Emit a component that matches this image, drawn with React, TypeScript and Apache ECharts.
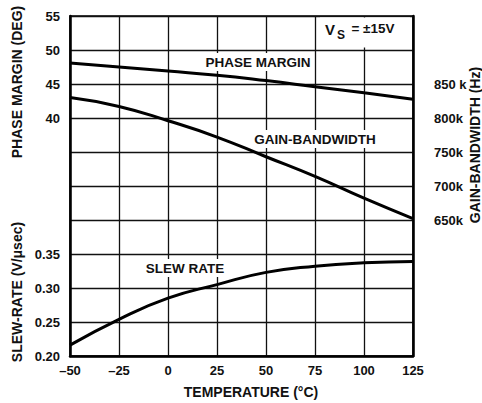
import React, { useEffect, useRef } from "react";
import * as echarts from "echarts";

const temperatures = [-50, -25, 0, 25, 50, 75, 100, 125];
const phaseMargin = [48.1, 47.5, 46.9, 46.3, 45.5, 44.6, 43.7, 42.75];
const gainBandwidth = [830000, 817000, 796000, 772000, 743000, 714000, 682000, 652000];
const slewRate = [0.216, 0.254, 0.285, 0.305, 0.323, 0.332, 0.337, 0.339];

const phaseTicks = [40, 45, 50, 55];
const gbwTicks = [650000, 700000, 750000, 800000, 850000];
const slewTicks = [0.2, 0.25, 0.3, 0.35];

const FONT = "Liberation Sans, Arial, Helvetica, sans-serif";

export default function App() {
  const ref = useRef<HTMLDivElement>(null);
  useEffect(() => {
    document.body.style.margin = "0";
    if (!ref.current) return;
    const chart = echarts.init(ref.current, undefined, { renderer: "svg" });
    const pairs = (ys: number[]) => temperatures.map((t, i) => [t, ys[i]]);
    const lbl = { color: "#111", fontFamily: FONT, fontSize: 13, fontWeight: "bold" as const };
    const lineStyle = { color: "#000", width: 3 };
    const textEl = (text: string, x: number, y: number, extra: any = {}) => ({
      type: "text",
      x,
      y,
      z: 100,
      style: {
        text,
        fill: "#111",
        font: `bold 13.5px ${FONT}`,
        align: "center",
        verticalAlign: "middle",
        ...extra,
      },
    });
    const vText = (text: string, x: number, y: number) => ({
      ...textEl(text, x, y, { font: `bold 14px ${FONT}` }),
      rotation: Math.PI / 2,
    });
    chart.setOption({
      animation: false,
      backgroundColor: "#fff",
      grid: {
        left: 70,
        right: 69,
        top: 16,
        bottom: 47,
        show: true,
        borderColor: "#000",
        borderWidth: 1.5,
      },
      xAxis: {
        type: "value",
        min: -50,
        max: 125,
        interval: 25,
        axisLine: { show: true, onZero: false, lineStyle: { color: "#000", width: 2.5 } },
        axisTick: { show: false },
        splitLine: { show: true, lineStyle: { color: "#111", width: 1.3 } },
        axisLabel: {
          ...lbl,
          margin: 8,
          formatter: (v: number) => (v < 0 ? "\u2013" + Math.abs(v) : String(v)),
        },
      },
      yAxis: [
        {
          type: "value",
          position: "left",
          min: 5,
          max: 55,
          interval: 5,
          axisLine: { show: true, onZero: false, lineStyle: { color: "#000", width: 2.5 } },
          axisTick: { show: false },
          splitLine: { show: true, lineStyle: { color: "#111", width: 1.3 } },
          axisLabel: {
            ...lbl,
            margin: 10,
            formatter: (v: number) =>
              phaseTicks.some((t) => Math.abs(t - v) < 1e-6) ? String(v) : "",
          },
        },
        {
          type: "value",
          position: "left",
          min: 0.2,
          max: 0.7,
          interval: 0.05,
          axisLine: { show: false, onZero: false },
          axisTick: { show: false },
          splitLine: { show: false },
          axisLabel: {
            ...lbl,
            margin: 10,
            formatter: (v: number) =>
              slewTicks.some((t) => Math.abs(t - v) < 1e-6) ? v.toFixed(2) : "",
          },
        },
        {
          type: "value",
          position: "right",
          min: 450000,
          max: 950000,
          interval: 50000,
          axisLine: { show: true, onZero: false, lineStyle: { color: "#000", width: 2.5 } },
          axisTick: { show: false },
          splitLine: { show: false },
          axisLabel: {
            ...lbl,
            margin: 21,
            formatter: (v: number) => {
              if (!gbwTicks.some((t) => Math.abs(t - v) < 1)) return "";
              const k = Math.round(v / 1000);
              return k === 850 ? "850 k" : k + "k";
            },
          },
        },
      ],
      series: [
        {
          type: "line",
          yAxisIndex: 0,
          data: pairs(phaseMargin),
          smooth: true,
          symbol: "none",
          lineStyle,
          z: 5,
        },
        {
          type: "line",
          yAxisIndex: 2,
          data: pairs(gainBandwidth),
          smooth: true,
          symbol: "none",
          lineStyle,
          z: 5,
        },
        {
          type: "line",
          yAxisIndex: 1,
          data: pairs(slewRate),
          smooth: true,
          symbol: "none",
          lineStyle,
          z: 5,
        },
      ],
      graphic: [
        vText("PHASE MARGIN (DEG)", 17, 82),
        vText("SLEW-RATE (V/\u03bcsec)", 17, 292),
        vText("GAIN-BANDWIDTH (Hz)", 475, 145),
        textEl("TEMPERATURE (\u00b0C)", 251, 392, { font: `bold 14px ${FONT}` }),
        textEl("PHASE MARGIN", 258, 62, { backgroundColor: "#fff", padding: [2, 3] }),
        textEl("GAIN-BANDWIDTH", 315, 139, { backgroundColor: "#fff", padding: [2, 3] }),
        textEl("SLEW RATE", 185, 268, { backgroundColor: "#fff", padding: [2, 3] }),
        {
          type: "rect",
          z: 99,
          shape: { x: 320, y: 17.5, width: 90, height: 30 },
          style: { fill: "#fff" },
        },
        textEl("V", 330, 29, { font: `bold 15px ${FONT}` }),
        textEl("S", 341, 35, { font: `bold 12px ${FONT}` }),
        textEl("= \u00b115V", 373, 28, { font: `bold 13.5px ${FONT}` }),
      ],
    });
    return () => chart.dispose();
  }, []);
  return <div ref={ref} style={{ width: 482, height: 403 }} />;
}
